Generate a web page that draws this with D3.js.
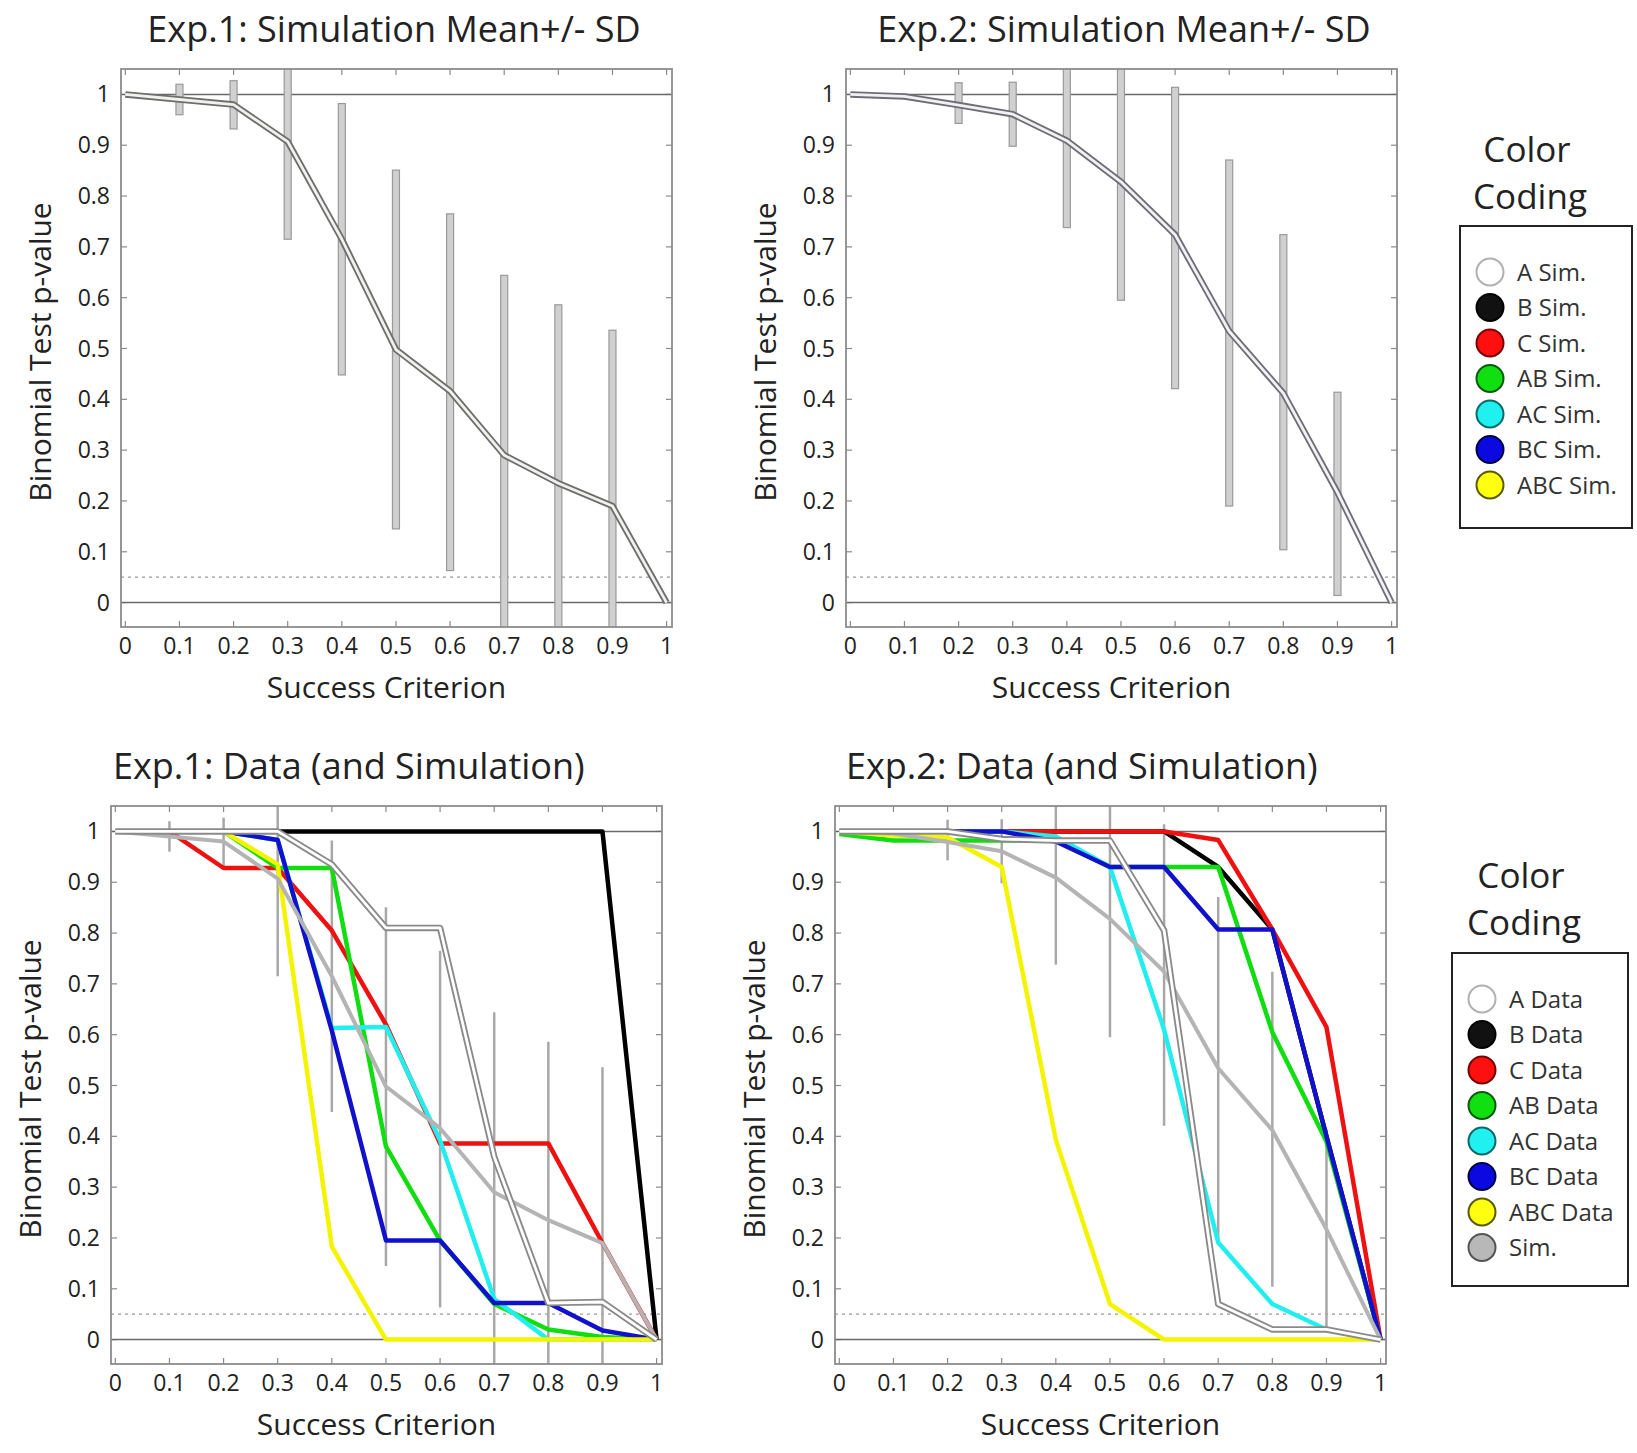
<!DOCTYPE html>
<html>
<head>
<meta charset="utf-8">
<script src="https://cdn.jsdelivr.net/npm/d3@7"></script>
<style>
body { margin: 0; background: #fff; }
text { font-family: "Open Sans", sans-serif; fill: #222; }
</style>
</head>
<body>
<svg id="fig" width="1637" height="1453"></svg>
<script>
// success criterion levels (x) and tick labels
const criteria = [0, 0.1, 0.2, 0.3, 0.4, 0.5, 0.6, 0.7, 0.8, 0.9, 1];
const xTickLabels = ['0', '0.1', '0.2', '0.3', '0.4', '0.5', '0.6', '0.7', '0.8', '0.9', '1'];
const yTicks = [0, 0.1, 0.2, 0.3, 0.4, 0.5, 0.6, 0.7, 0.8, 0.9, 1];
const yTickLabels = ['0', '0.1', '0.2', '0.3', '0.4', '0.5', '0.6', '0.7', '0.8', '0.9', '1'];
const alphaLevel = 0.05;

// simulation mean and mean-/+SD
const exp1SimMean = [1.0, 0.99, 0.98, 0.907, 0.715, 0.498, 0.416, 0.29, 0.235, 0.19, 0];
const exp1SdCrit = [0.1, 0.2, 0.3, 0.4, 0.5, 0.6, 0.7, 0.8, 0.9];
const exp1SdLow  = [0.96, 0.932, 0.715, 0.448, 0.145, 0.063, -0.08, -0.08, -0.08];
const exp1SdHigh = [1.02, 1.027, 1.10, 0.982, 0.851, 0.765, 0.644, 0.586, 0.536];

const exp2SimMean = [1.0, 0.996, 0.979, 0.961, 0.909, 0.828, 0.724, 0.534, 0.412, 0.217, 0];
const exp2SdCrit = [0.2, 0.3, 0.4, 0.5, 0.6, 0.7, 0.8, 0.9];
const exp2SdLow  = [0.943, 0.898, 0.738, 0.595, 0.421, 0.19, 0.104, 0.014];
const exp2SdHigh = [1.023, 1.024, 1.08, 1.07, 1.014, 0.871, 0.724, 0.414];

// Exp.1 data
const exp1A   = [1, 1, 1, 1, 0.935, 0.81, 0.81, 0.36, 0.072, 0.074, 0];
const exp1B   = [1, 1, 1, 1, 1, 1, 1, 1, 1, 1, 0];
const exp1C   = [1, 1, 0.928, 0.928, 0.805, 0.62, 0.386, 0.386, 0.386, 0.19, 0];
const exp1AB  = [1, 1, 1, 0.928, 0.928, 0.38, 0.195, 0.07, 0.02, 0.005, 0];
const exp1AC  = [1, 1, 1, 0.983, 0.613, 0.615, 0.392, 0.08, 0, 0, 0];
const exp1BC  = [1, 1, 1, 0.983, 0.608, 0.195, 0.195, 0.072, 0.072, 0.018, 0];
const exp1ABC = [1, 1, 1, 0.935, 0.183, 0, 0, 0, 0, 0, 0];

// Exp.2 data
const exp2A   = [1, 1, 1, 0.985, 0.982, 0.982, 0.805, 0.07, 0.02, 0.02, 0];
const exp2B   = [1, 1, 1, 1, 1, 1, 1, 0.93, 0.807, 0.4, 0];
const exp2C   = [1, 1, 1, 1, 1, 1, 1, 0.983, 0.807, 0.615, 0];
const exp2AB  = [0.995, 0.982, 0.982, 0.982, 0.982, 0.93, 0.93, 0.93, 0.605, 0.39, 0];
const exp2AC  = [1, 1, 1, 1, 0.99, 0.93, 0.61, 0.191, 0.07, 0.02, 0];
const exp2BC  = [1, 1, 1, 1, 0.98, 0.93, 0.93, 0.807, 0.807, 0.4, 0];
const exp2ABC = [1, 0.992, 0.988, 0.93, 0.393, 0.07, 0, 0, 0, 0, 0];

const simLegend  = ['A Sim.', 'B Sim.', 'C Sim.', 'AB Sim.', 'AC Sim.', 'BC Sim.', 'ABC Sim.'];
const dataLegend = ['A Data', 'B Data', 'C Data', 'AB Data', 'AC Data', 'BC Data', 'ABC Data', 'Sim.'];
const legendFill   = ['#ffffff', '#111111', '#ff1010', '#10e010', '#20f0f0', '#0a0ae0', '#ffff10', '#b8b8b8'];
const legendStroke = ['#b0b0b0', '#000000', '#7a0000', '#0a5a0a', '#0a6a6a', '#00004a', '#5a5a00', '#555555'];
const lineColor = { B: '#000000', C: '#ee1111', AB: '#11dd11', AC: '#22eeee', BC: '#1111cc', ABC: '#f4f400' };

const svg = d3.select('#fig');
svg.append('rect').attr('width', 1637).attr('height', 1453).attr('fill', '#fff');

const W = 551, H = 558;
const x = d3.scaleLinear().domain([-0.008, 1.01]).range([0, W]);
const y = d3.scaleLinear().domain([-0.048, 1.05]).range([H, 0]);
const line = d3.line().x((d, i) => x(criteria[i])).y(d => y(d));

function panel(id, left, top, title, titleX, titleAnchor) {
    const g = svg.append('g').attr('transform', `translate(${left},${top})`);

    g.append('clipPath').attr('id', 'clip-' + id)
        .append('rect').attr('width', W).attr('height', H);

    // title
    svg.append('text')
        .attr('x', titleX).attr('y', top - 27)
        .attr('text-anchor', titleAnchor)
        .style('font-size', '36px')
        .text(title);

    // frame ticks (inside, all four sides)
    const tk = g.append('g').attr('stroke', '#8a8a8a').attr('stroke-width', 1.2);
    criteria.forEach(c => {
        tk.append('line').attr('x1', x(c)).attr('x2', x(c)).attr('y1', H).attr('y2', H - 6);
        tk.append('line').attr('x1', x(c)).attr('x2', x(c)).attr('y1', 0).attr('y2', 6);
    });
    yTicks.forEach(v => {
        tk.append('line').attr('y1', y(v)).attr('y2', y(v)).attr('x1', 0).attr('x2', 6);
        tk.append('line').attr('y1', y(v)).attr('y2', y(v)).attr('x1', W).attr('x2', W - 6);
    });

    // tick labels
    g.selectAll('.xl').data(xTickLabels).join('text')
        .attr('x', (d, i) => x(criteria[i])).attr('y', H + 27)
        .attr('text-anchor', 'middle').style('font-size', '23px').text(d => d);
    g.selectAll('.yl').data(yTickLabels).join('text')
        .attr('x', -11).attr('y', (d, i) => y(yTicks[i])).attr('dy', '0.35em')
        .attr('text-anchor', 'end').style('font-size', '23px').text(d => d);

    // axis labels
    g.append('text')
        .attr('x', W / 2 - 10).attr('y', H + 71)
        .attr('text-anchor', 'middle').style('font-size', '30px')
        .text('Success Criterion');
    g.append('text')
        .attr('transform', `translate(-81,${H / 2 + 4}) rotate(-90)`)
        .attr('dy', '0.35em')
        .attr('text-anchor', 'middle').style('font-size', '30px')
        .text('Binomial Test p-value');

    const plot = g.append('g').attr('clip-path', `url(#clip-${id})`);

    // reference lines
    plot.append('line').attr('x1', 0).attr('x2', W).attr('y1', y(alphaLevel)).attr('y2', y(alphaLevel))
        .attr('stroke', '#9a9a9a').attr('stroke-width', 1.3).attr('stroke-dasharray', '3,4');
    [0, 1].forEach(v => {
        plot.append('line').attr('x1', 0).attr('x2', W).attr('y1', y(v)).attr('y2', y(v))
            .attr('stroke', '#6a6a6a').attr('stroke-width', 1.5);
    });

    // frame
    g.append('rect').attr('width', W).attr('height', H)
        .attr('fill', 'none').attr('stroke', '#8c8c8c').attr('stroke-width', 1.8);

    return plot;
}

function sdBars(plot, crit, lo, hi) {
    plot.selectAll('.sd').data(crit).join('rect')
        .attr('x', d => x(d) - 3.5).attr('width', 7)
        .attr('y', (d, i) => y(hi[i])).attr('height', (d, i) => y(lo[i]) - y(hi[i]))
        .attr('fill', '#d0d0d0').attr('stroke', '#9a9a9a').attr('stroke-width', 1.2);
}

function sdLines(plot, crit, lo, hi) {
    plot.selectAll('.sdl').data(crit).join('line')
        .attr('x1', d => x(d)).attr('x2', d => x(d))
        .attr('y1', (d, i) => y(hi[i])).attr('y2', (d, i) => y(lo[i]))
        .attr('stroke', '#a8a8a8').attr('stroke-width', 2.5);
}

function hollow(plot, vals, outer, inner) {
    plot.append('path').attr('d', line(vals)).attr('fill', 'none')
        .attr('stroke', outer).attr('stroke-width', 6.5).attr('stroke-linejoin', 'round');
    plot.append('path').attr('d', line(vals)).attr('fill', 'none')
        .attr('stroke', inner).attr('stroke-width', 2.8).attr('stroke-linejoin', 'round');
}

function colored(plot, vals, color, w) {
    plot.append('path').attr('d', line(vals)).attr('fill', 'none')
        .attr('stroke', color).attr('stroke-width', w).attr('stroke-linejoin', 'round');
}

function legend(left, top, w, h, titleY, labels) {
    const cx = left + w / 2 - 19;
    svg.append('text').attr('x', cx).attr('y', titleY).attr('text-anchor', 'middle')
        .style('font-size', '35px').text('Color');
    svg.append('text').attr('x', cx + 3).attr('y', titleY + 47).attr('text-anchor', 'middle')
        .style('font-size', '35px').text('Coding');
    svg.append('rect').attr('x', left).attr('y', top).attr('width', w).attr('height', h)
        .attr('fill', '#fff').attr('stroke', '#222').attr('stroke-width', 2);
    const step = 35.5;
    const items = svg.append('g').selectAll('g').data(labels).join('g')
        .attr('transform', (d, i) => `translate(${left + 30},${top + 46 + i * step})`);
    items.append('circle').attr('r', 13.5)
        .attr('fill', (d, i) => legendFill[i])
        .attr('stroke', (d, i) => legendStroke[i]).attr('stroke-width', 2);
    items.append('text').attr('x', 27).attr('dy', '0.36em')
        .style('font-size', '24px').style('fill', '#333').text(d => d);
}

// Exp.1 simulation
const p1 = panel('p1', 121, 69, 'Exp.1: Simulation Mean+/- SD', 394, 'middle');
sdBars(p1, exp1SdCrit, exp1SdLow, exp1SdHigh);
hollow(p1, exp1SimMean, '#6e6e6e', '#f2f2ec');

// Exp.2 simulation
const p2 = panel('p2', 846, 69, 'Exp.2: Simulation Mean+/- SD', 1124, 'middle');
sdBars(p2, exp2SdCrit, exp2SdLow, exp2SdHigh);
hollow(p2, exp2SimMean, '#6e6e7a', '#f2f2f2');

// Exp.1 data
const p3 = panel('p3', 111, 806, 'Exp.1: Data (and Simulation)', 113, 'start');
sdLines(p3, exp1SdCrit, exp1SdLow, exp1SdHigh);
colored(p3, exp1B, lineColor.B, 4.5);
colored(p3, exp1C, lineColor.C, 4.5);
colored(p3, exp1AB, lineColor.AB, 4.5);
colored(p3, exp1AC, lineColor.AC, 4.5);
colored(p3, exp1BC, lineColor.BC, 4.5);
colored(p3, exp1ABC, lineColor.ABC, 4.5);
colored(p3, exp1SimMean, '#b4b4b4', 4);
hollow(p3, exp1A, '#8a8a8a', '#ffffff');

// Exp.2 data
const p4 = panel('p4', 835, 806, 'Exp.2: Data (and Simulation)', 846, 'start');
sdLines(p4, exp2SdCrit, exp2SdLow, exp2SdHigh);
colored(p4, exp2B, lineColor.B, 4.5);
colored(p4, exp2C, lineColor.C, 4.5);
colored(p4, exp2AB, lineColor.AB, 4.5);
colored(p4, exp2AC, lineColor.AC, 4.5);
colored(p4, exp2BC, lineColor.BC, 4.5);
colored(p4, exp2ABC, lineColor.ABC, 4.5);
colored(p4, exp2SimMean, '#b4b4b4', 4);
hollow(p4, exp2A, '#8a8a8a', '#ffffff');

legend(1460, 226, 172, 302, 162, simLegend);
legend(1452, 953, 176, 333, 888, dataLegend);
</script>
</body>
</html>
